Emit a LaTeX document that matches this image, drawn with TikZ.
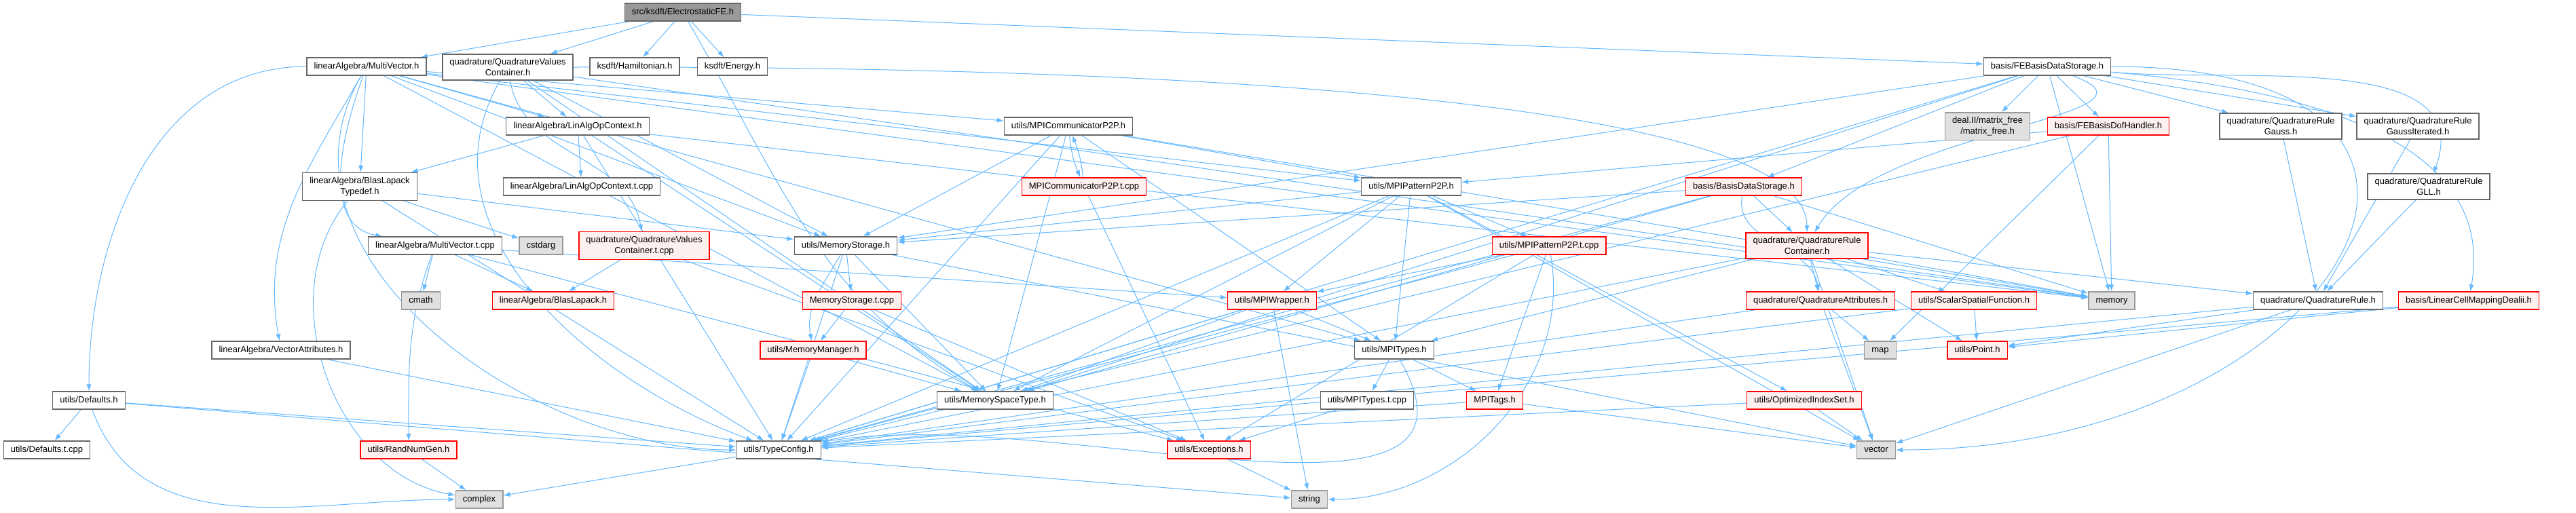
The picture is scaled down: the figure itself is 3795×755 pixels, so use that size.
\documentclass[tikz,border=0pt]{standalone}
\usepackage{fontspec}
\setmainfont{Liberation Sans}
\usetikzlibrary{arrows.meta}
\usetikzlibrary{positioning}
\pgfdeclarelayer{edgelayer}
\pgfdeclarelayer{nodelayer}
\pgfsetlayers{edgelayer,nodelayer,main}
\definecolor{edgeblue}{RGB}{99,184,255}
\definecolor{hdrline}{RGB}{102,102,102}
\definecolor{redfill}{RGB}{255,240,240}
\definecolor{sysline}{RGB}{153,153,153}
\definecolor{sysfill}{RGB}{224,224,224}
\definecolor{topfill}{RGB}{153,153,153}
\tikzstyle{hdr}=[draw=hdrline,fill=white,line width=0.7pt,inner xsep=5.3pt,inner ysep=3.4pt,font=\fontsize{6.5}{7.8}\selectfont,text height=4.8pt,text depth=1.4pt]
\tikzstyle{twoline}=[draw=hdrline,fill=white,line width=0.7pt,inner xsep=5.3pt,inner ysep=3.2pt,font=\fontsize{6.5}{7.8}\selectfont,align=center]
\tikzstyle{redh}=[hdr,draw=red,fill=redfill]
\tikzstyle{redtwo}=[twoline,draw=red,fill=redfill]
\tikzstyle{sys}=[hdr,draw=sysline,fill=sysfill]
\tikzstyle{systwo}=[twoline,draw=sysline,fill=sysfill]
\tikzstyle{rootfile}=[hdr,fill=topfill]
\tikzstyle{dep}=[draw=edgeblue,line width=0.5pt,-{Latex[length=5pt,width=3.6pt]}]

\begin{document}
\begin{tikzpicture}[x=0.5pt,y=-0.5pt]
	\useasboundingbox (0,0) rectangle (3795,755);
	\begin{pgfonlayer}{nodelayer}
		\node [style=rootfile] (top) at (1006, 18) {src/ksdft/ElectrostaticFE.h};
		\node [style=hdr] (mv) at (540, 98) {linearAlgebra/MultiVector.h};
		\node [style=twoline] (qvc) at (748, 99) {quadrature/QuadratureValues\\Container.h};
		\node [style=hdr] (ham) at (935, 98) {ksdft/Hamiltonian.h};
		\node [style=hdr] (energy) at (1079, 98) {ksdft/Energy.h};
		\node [style=hdr] (febds) at (3016, 98) {basis/FEBasisDataStorage.h};
		\node [style=hdr] (linalg) at (851, 186) {linearAlgebra/LinAlgOpContext.h};
		\node [style=hdr] (mpicomm) at (1574, 186) {utils/MPICommunicatorP2P.h};
		\node [style=systwo] (dealii) at (2928, 186) {deal.II/matrix\_free\\/matrix\_free.h};
		\node [style=redh] (fedof) at (3106, 186) {basis/FEBasisDofHandler.h};
		\node [style=twoline] (gauss) at (3360, 186) {quadrature/QuadratureRule\\Gauss.h};
		\node [style=twoline] (gaussit) at (3562, 186) {quadrature/QuadratureRule\\GaussIterated.h};
		\node [style=twoline] (blt) at (530, 275) {linearAlgebra/BlasLapack\\Typedef.h};
		\node [style=hdr] (linalgt) at (857, 275) {linearAlgebra/LinAlgOpContext.t.cpp};
		\node [style=redh] (mpicommt) at (1597, 275) {MPICommunicatorP2P.t.cpp};
		\node [style=hdr] (mpipat) at (2079, 275) {utils/MPIPatternP2P.h};
		\node [style=redh] (bds) at (2569, 275) {basis/BasisDataStorage.h};
		\node [style=twoline] (gll) at (3578, 275) {quadrature/QuadratureRule\\GLL.h};
		\node [style=hdr] (mvt) at (641, 362) {linearAlgebra/MultiVector.t.cpp};
		\node [style=sys] (cstdarg) at (797, 362) {cstdarg};
		\node [style=redtwo] (qvct) at (949, 362) {quadrature/QuadratureValues\\Container.t.cpp};
		\node [style=hdr] (memstor) at (1246, 362) {utils/MemoryStorage.h};
		\node [style=redh] (mpipatt) at (2282, 362) {utils/MPIPatternP2P.t.cpp};
		\node [style=redtwo] (qrc) at (2662, 362) {quadrature/QuadratureRule\\Container.h};
		\node [style=sys] (cmath) at (620, 443) {cmath};
		\node [style=redh] (blaslapack) at (815, 443) {linearAlgebra/BlasLapack.h};
		\node [style=redh] (memstort) at (1255, 443) {MemoryStorage.t.cpp};
		\node [style=redh] (mpiwrap) at (1874, 443) {utils/MPIWrapper.h};
		\node [style=redh] (qattr) at (2682, 443) {quadrature/QuadratureAttributes.h};
		\node [style=redh] (scalarfn) at (2908, 443) {utils/ScalarSpatialFunction.h};
		\node [style=sys] (memory) at (3111, 443) {memory};
		\node [style=hdr] (qrule) at (3415, 443) {quadrature/QuadratureRule.h};
		\node [style=redh] (lincell) at (3637, 443) {basis/LinearCellMappingDealii.h};
		\node [style=hdr] (vecattr) at (414, 516) {linearAlgebra/VectorAttributes.h};
		\node [style=redh] (memmgr) at (1198, 516) {utils/MemoryManager.h};
		\node [style=hdr] (mpitypes) at (2054, 516) {utils/MPITypes.h};
		\node [style=sys] (map) at (2770, 516) {map};
		\node [style=redh] (point) at (2913, 516) {utils/Point.h};
		\node [style=hdr] (defaults) at (131, 590) {utils/Defaults.h};
		\node [style=hdr] (mst) at (1466, 590) {utils/MemorySpaceType.h};
		\node [style=hdr] (mpitypest) at (2014, 590) {utils/MPITypes.t.cpp};
		\node [style=redh] (mpitags) at (2202, 590) {MPITags.h};
		\node [style=redh] (optidx) at (2658, 590) {utils/OptimizedIndexSet.h};
		\node [style=hdr] (defaultst) at (69, 663) {utils/Defaults.t.cpp};
		\node [style=redh] (randnum) at (602, 663) {utils/RandNumGen.h};
		\node [style=hdr] (typecfg) at (1147, 663) {utils/TypeConfig.h};
		\node [style=redh] (exceptions) at (1781, 663) {utils/Exceptions.h};
		\node [style=sys] (vector) at (2764, 663) {vector};
		\node [style=sys] (complex) at (706, 736) {complex};
		\node [style=sys] (string) at (1929, 736) {string};
	\end{pgfonlayer}
	\begin{pgfonlayer}{edgelayer}
		% top file
		\draw[dep] (top) to (mv);
		\draw[dep] (top) to (qvc);
		\draw[dep] (top) to (ham);
		\draw[dep] (top) to (energy);
		\draw[dep] (top) to (febds);
		\draw[dep] (top) to[out=-60,in=150] (mst);
		% multivector
		\draw[dep] (mv) to[out=180,in=90] (defaults);
		\draw[dep] (mv) to[out=-120,in=180] (typecfg);
		\draw[dep] (mv) to[out=-120,in=100] (vecattr);
		\draw[dep] (mv) to[out=-110,in=170] (mvt);
		\draw[dep] (mv) to (blt);
		\draw[dep] (mv) to (memstor);
		\draw[dep] (mv) to (linalg);
		\draw[dep] (mv) to (mpicomm);
		\draw[dep] (mv) to (mpipat);
		\draw[dep] (mv) to (mst);
		\draw[dep] (mv) to (mpitypes);
		\draw[dep] (mv) to (memory);
		% quadrature values container
		\draw[dep] (qvc) to (linalg);
		\draw[dep] (qvc) to[out=-80,in=100] (qvct);
		\draw[dep] (qvc) to[out=0,in=90,looseness=0.35] (qrc);
		\draw[dep] (qvc) to (memstor);
		\draw[dep] (qvc) to[out=-120,in=160] (typecfg);
		\draw[dep] (qvc) to (mst);
		\draw[dep] (qvc) to (memory);
		% linalg context
		\draw[dep] (linalg) to (blt);
		\draw[dep] (linalg) to (linalgt);
		\draw[dep] (linalg) to (mst);
		\draw[dep] (linalg) to (typecfg);
		\draw[dep] (linalg) to (memory);
		% blas lapack typedef
		\draw[dep] (blt) to (cstdarg);
		\draw[dep] (blt) to[out=-130,in=170] (complex);
		\draw[dep] (blt) to (typecfg);
		\draw[dep] (blt) to (memstor);
		% multivector.t.cpp
		\draw[dep] (mvt) to (cmath);
		\draw[dep] (mvt) to (blaslapack);
		\draw[dep] (mvt) to[out=-110,in=90] (randnum);
		\draw[dep] (mvt) to (exceptions);
		\draw[dep] (mvt) to (mpiwrap);
		\draw[dep] (qvct) to (blaslapack);
		\draw[dep] (qvct) to (exceptions);
		% communicator
		\draw[dep] (mpicomm) to[bend right=8] (mpicommt);
		\draw[dep] (mpicommt) to[bend right=8] (mpicomm);
		\draw[dep] (mpicomm) to (memstor);
		\draw[dep] (mpicomm) to (mpipat);
		\draw[dep] (mpicomm) to (mpitypes);
		\draw[dep] (mpicomm) to (mst);
		\draw[dep] (mpicomm) to (typecfg);
		\draw[dep] (mpicomm) to (memory);
		\draw[dep] (mpicommt) to (exceptions);
		% memory storage
		\draw[dep] (memstor) to (memstort);
		\draw[dep] (memstor) to[out=-120,in=100] (memmgr);
		\draw[dep] (memstor) to (typecfg);
		\draw[dep] (memstor) to (mst);
		\draw[dep] (memstor) to (vector);
		\draw[dep] (memstort) to (memmgr);
		\draw[dep] (memstort) to (exceptions);
		\draw[dep] (memmgr) to (typecfg);
		\draw[dep] (memmgr) to (mst);
		% pattern
		\draw[dep] (mpipat) to (mpipatt);
		\draw[dep] (mpipat) to (memstor);
		\draw[dep] (mpipat) to (mpitypes);
		\draw[dep] (mpipat) to (optidx);
		\draw[dep] (mpipat) to (mpiwrap);
		\draw[dep] (mpipat) to (mst);
		\draw[dep] (mpipat) to (typecfg);
		\draw[dep] (mpipat) to (vector);
		\draw[dep] (mpipatt) to (mpitags);
		\draw[dep] (mpipatt) to (exceptions);
		\draw[dep] (mpipatt) to[out=-80,in=0] (string);
		\draw[dep] (mpipatt) to (typecfg);
		\draw[dep] (mpipatt) to (mpiwrap);
		% basis data storage
		\draw[dep] (bds) to (qrc);
		\draw[dep] (bds) to[out=-100,in=100] (qattr);
		\draw[dep] (bds) to (memstor);
		\draw[dep] (bds) to (mst);
		\draw[dep] (bds) to (typecfg);
		\draw[dep] (bds) to (memory);
		% quadrature rule container
		\draw[dep] (qrc) to (qattr);
		\draw[dep] (qrc) to (qrule);
		\draw[dep] (qrc) to (scalarfn);
		\draw[dep] (qrc) to (memory);
		\draw[dep] (qrc) to (mpitypes);
		\draw[dep] (qrc) to (point);
		\draw[dep] (qrc) to (typecfg);
		\draw[dep] (qrc) to (vector);
		% fe basis data storage
		\draw[dep] (febds) to (bds);
		\draw[dep] (febds) to (dealii);
		\draw[dep] (febds) to (fedof);
		\draw[dep] (febds) to (gauss);
		\draw[dep] (febds) to (gaussit);
		\draw[dep] (febds) to[out=-5,in=70] (gll);
		\draw[dep] (febds) to[out=-5,in=80] (lincell);
		\draw[dep] (febds) to (memstor);
		\draw[dep] (febds) to (mst);
		\draw[dep] (febds) to (typecfg);
		\draw[dep] (febds) to[out=0,in=0,looseness=2.6] (vector);
		\draw[dep] (febds) to (memory);
		\draw[dep] (febds) to[out=-20,in=60] (qrc);
		\draw[dep] (fedof) to (mpipat);
		\draw[dep] (fedof) to (memory);
		\draw[dep] (fedof) to (map);
		\draw[dep] (fedof) to (typecfg);
		% quadrature rules
		\draw[dep] (gauss) to (qrule);
		\draw[dep] (gaussit) to (qrule);
		\draw[dep] (gll) to (qrule);
		\draw[dep] (qrule) to (point);
		\draw[dep] (qrule) to (typecfg);
		\draw[dep] (qrule) to (vector);
		\draw[dep] (lincell) to (point);
		\draw[dep] (lincell) to (typecfg);
		\draw[dep] (scalarfn) to (point);
		\draw[dep] (scalarfn) to (typecfg);
		\draw[dep] (qattr) to (map);
		\draw[dep] (qattr) to (vector);
		\draw[dep] (qattr) to (typecfg);
		\draw[dep] (optidx) to (vector);
		\draw[dep] (optidx) to (typecfg);
		% mpi
		\draw[dep] (mpiwrap) to (mpitypes);
		\draw[dep] (mpiwrap) to (mst);
		\draw[dep] (mpiwrap) to (typecfg);
		\draw[dep] (mpiwrap) to (string);
		\draw[dep] (mpitypes) to (mpitypest);
		\draw[dep] (mpitypes) to (mpitags);
		\draw[dep] (mpitypes) to[out=-60,in=10] (typecfg);
		\draw[dep] (mpitypest) to (exceptions);
		\draw[dep] (mpitags) to (vector);
		\draw[dep] (mpitags) to (typecfg);
		% leaves
		\draw[dep] (exceptions) to (string);
		\draw[dep] (typecfg) to (complex);
		\draw[dep] (defaults) to (defaultst);
		\draw[dep] (defaults) to[out=-70,in=180] (complex);
		\draw[dep] (defaults) to (typecfg);
		\draw[dep] (defaults) to (string);
		\draw[dep] (randnum) to (complex);
		\draw[dep] (vecattr) to (typecfg);
	\end{pgfonlayer}
\end{tikzpicture}
\end{document}
